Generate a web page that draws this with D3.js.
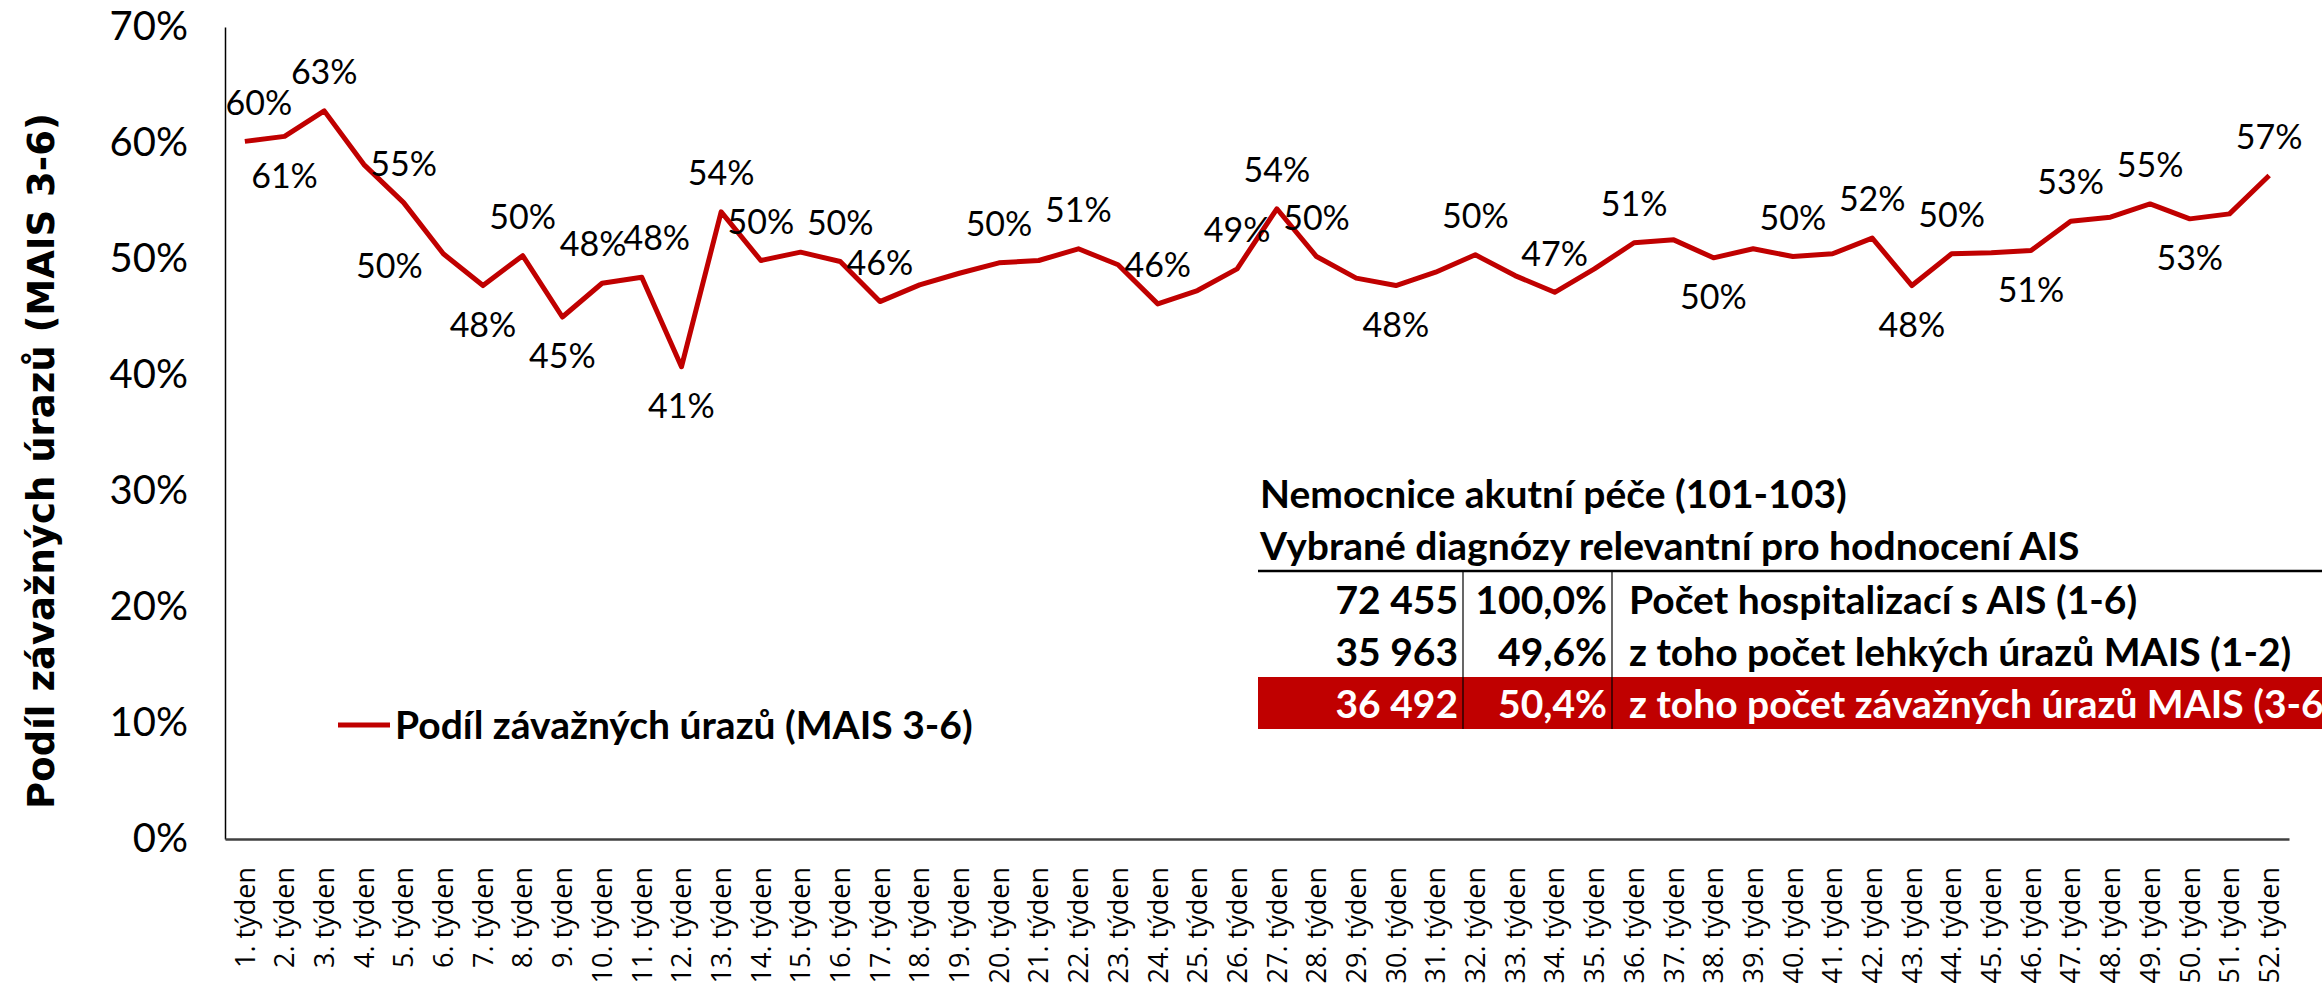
<!DOCTYPE html>
<html>
<head>
<meta charset="utf-8">
<script src="https://cdn.jsdelivr.net/npm/d3@7"></script>
<style>
  html, body { margin: 0; padding: 0; background: #fff; overflow: hidden; }
  svg { display: block; }
</style>
</head>
<body>
<svg id="chart" width="2322" height="984"></svg>
<script>
// kategorie (týdny)
const weeks = [
  '1. týden', '2. týden', '3. týden', '4. týden', '5. týden', '6. týden', '7. týden', '8. týden',
  '9. týden', '10. týden', '11. týden', '12. týden', '13. týden', '14. týden', '15. týden', '16. týden',
  '17. týden', '18. týden', '19. týden', '20. týden', '21. týden', '22. týden', '23. týden', '24. týden',
  '25. týden', '26. týden', '27. týden', '28. týden', '29. týden', '30. týden', '31. týden', '32. týden',
  '33. týden', '34. týden', '35. týden', '36. týden', '37. týden', '38. týden', '39. týden', '40. týden',
  '41. týden', '42. týden', '43. týden', '44. týden', '45. týden', '46. týden', '47. týden', '48. týden',
  '49. týden', '50. týden', '51. týden', '52. týden'
]

// podíl závažných úrazů (MAIS 3-6) po týdnech
const severeShare = [
  0.6014, 0.6057, 0.6277, 0.5814, 0.5486, 0.5045, 0.4771, 0.5029, 0.4500, 0.4791,
  0.4843, 0.4071, 0.5406, 0.4987, 0.5059, 0.4978, 0.4633, 0.4777, 0.4877, 0.4967,
  0.4987, 0.5088, 0.4950, 0.4613, 0.4728, 0.4915, 0.5433, 0.5021, 0.4835, 0.4771,
  0.4886, 0.5036, 0.4857, 0.4713, 0.4915, 0.5140, 0.5165, 0.5010, 0.5088, 0.5021,
  0.5045, 0.5180, 0.4771, 0.5045, 0.5053, 0.5073, 0.5326, 0.5360, 0.5475, 0.5346,
  0.5389, 0.5720
]

// umístění popisků: t = nad, b = pod, l = vlevo, '' = bez popisku
const labelPos = [
  't', 'b', 't', '', 't', 'l', 'b', 't', 'b', 't', 't', 'b', 't', 't', '', 't',
  't', '', '', 't', '', 't', '', 't', '', 't', 't', 't', '', 'b', '', 't',
  '', 't', '', 't', '', 'b', '', 't', '', 't', 'b', 't', '', 'b', 't', '',
  't', 'b', '', 't'
]

const yTicks = [0, 0.1, 0.2, 0.3, 0.4, 0.5, 0.6, 0.7]

const seriesName = 'Podíl závažných úrazů (MAIS 3-6)'
const yTitle = 'Podíl závažných úrazů (MAIS 3-6)'

// tabulka v grafu
const tableTitles = ['Nemocnice akutní péče (101-103)', 'Vybrané diagnózy relevantní pro hodnocení AIS']
const tableCounts = [72455, 35963, 36492]
const tableShares = [1.0, 0.496, 0.504]
const tableLabels = [
  'Počet hospitalizací s AIS (1-6)',
  'z toho počet lehkých úrazů MAIS (1-2)',
  'z toho počet závažných úrazů MAIS (3-6)'
]

const RED = '#c00000'
const W = 2322, H = 984
const margin = { top: 27, right: 33, bottom: 145, left: 225 }

const cz = d3.formatLocale({ decimal: ',', thousands: ' ', grouping: [3], currency: ['', ' Kč'] })
const fmtCount = cz.format(',d')
const fmtShare = cz.format('.1%')
const fmtPct = d3.format('.0%')

const svg = d3.select('#chart')

const x = d3.scaleBand()
  .domain(weeks)
  .range([margin.left, W - margin.right])
  .padding(0)

const y = d3.scaleLinear()
  .domain([0, 0.7])
  .range([H - margin.bottom, margin.top])

const cx = w => x(w) + x.bandwidth() / 2

// osa Y
const yAxis = svg.append('g')
  .attr('transform', `translate(${margin.left},0)`)
  .call(d3.axisLeft(y).tickValues(yTicks).tickFormat(fmtPct).tickSize(0).tickPadding(37))
yAxis.select('.domain').attr('stroke', '#000').attr('stroke-width', 1.5)
yAxis.selectAll('text')
  .style('font-family', 'Lato, sans-serif')
  .style('font-size', '40px')
  .attr('fill', '#000')

// osa X
const xAxis = svg.append('g')
  .attr('transform', `translate(0,${H - margin.bottom})`)
  .call(d3.axisBottom(x).tickSize(0).tickSizeOuter(0))
xAxis.select('.domain').attr('stroke', '#404040').attr('stroke-width', 2.5)
xAxis.selectAll('text')
  .style('font-family', '"Open Sans", sans-serif')
  .style('font-size', '27px')
  .attr('fill', '#000')
  .attr('text-anchor', 'end')
  .attr('transform', 'rotate(-90)')
  .attr('x', -28)
  .attr('y', 0)
  .attr('dy', '0.36em')

// název osy Y
svg.append('text')
  .attr('transform', `translate(41,${(margin.top + H - margin.bottom) / 2 + 28}) rotate(-90)`)
  .attr('text-anchor', 'middle')
  .attr('dy', '0.36em')
  .style('font-family', '"DejaVu Sans", sans-serif')
  .style('font-weight', 'bold')
  .style('font-size', '37px')
  .text(yTitle)

// křivka
const points = weeks.map((w, i) => ({ week: w, value: severeShare[i], pos: labelPos[i] }))

const line = d3.line()
  .x(d => cx(d.week))
  .y(d => y(d.value))

svg.append('path')
  .datum(points)
  .attr('fill', 'none')
  .attr('stroke', RED)
  .attr('stroke-width', 5)
  .attr('stroke-linejoin', 'round')
  .attr('d', line)

// popisky hodnot
const nudge = { '1. týden': 14, '10. týden': -9, '11. týden': 15 }
svg.append('g')
  .selectAll('text')
  .data(points.filter(d => d.pos))
  .join('text')
  .attr('x', d => {
    if (d.pos === 'l') return cx(d.week) - 54
    return cx(d.week) + (nudge[d.week] || 0)
  })
  .attr('y', d => {
    if (d.pos === 't') return y(d.value) - 39
    if (d.pos === 'b') return y(d.value) + 39
    return y(d.value) + 12
  })
  .attr('dy', '0.36em')
  .attr('text-anchor', 'middle')
  .style('font-family', 'Lato, sans-serif')
  .style('font-size', '34px')
  .attr('fill', '#000')
  .text(d => fmtPct(d.value))

// legenda
const legend = svg.append('g').attr('transform', 'translate(338,725)')
legend.append('line')
  .attr('x1', 0).attr('x2', 52)
  .attr('stroke', RED).attr('stroke-width', 5)
legend.append('text')
  .attr('x', 57)
  .attr('dy', '0.36em')
  .style('font-family', 'Lato, sans-serif')
  .style('font-weight', 'bold')
  .style('font-size', '39px')
  .text(seriesName)

// tabulka
const tbl = svg.append('g')
const tLeft = 1258, col1 = 1463, col2 = 1612
const rowTop = 573, rowH = 52

tbl.selectAll('text.title')
  .data(tableTitles)
  .join('text')
  .attr('class', 'title')
  .attr('x', tLeft + 2)
  .attr('y', (d, i) => 494 + i * 52)
  .attr('dy', '0.36em')
  .style('font-family', 'Lato, sans-serif')
  .style('font-weight', 'bold')
  .style('font-size', '39px')
  .text(d => d)

tbl.append('rect')
  .attr('x', tLeft).attr('y', rowTop + rowH * 2)
  .attr('width', W - tLeft).attr('height', rowH)
  .attr('fill', RED)

tbl.append('line')
  .attr('x1', tLeft).attr('x2', W)
  .attr('y1', rowTop - 2).attr('y2', rowTop - 2)
  .attr('stroke', '#000').attr('stroke-width', 2.5)

;[col1, col2].forEach(cxl => {
  tbl.append('line')
    .attr('x1', cxl).attr('x2', cxl)
    .attr('y1', rowTop - 2).attr('y2', rowTop + rowH * 3)
    .attr('stroke', '#000').attr('stroke-width', 1.2)
})

const rows = tableCounts.map((c, i) => ({ count: c, share: tableShares[i], label: tableLabels[i], i }))
const rowG = tbl.selectAll('g.row')
  .data(rows)
  .join('g')
  .attr('class', 'row')
  .attr('transform', d => `translate(0,${rowTop + rowH * d.i + rowH / 2 + 1})`)
  .style('font-family', 'Lato, sans-serif')
  .style('font-weight', 'bold')
  .style('font-size', '39px')
  .attr('fill', d => d.i === 2 ? '#fff' : '#000')

rowG.append('text')
  .attr('x', col1 - 5).attr('dy', '0.36em')
  .attr('text-anchor', 'end')
  .text(d => fmtCount(d.count))
rowG.append('text')
  .attr('x', col2 - 5).attr('dy', '0.36em')
  .attr('text-anchor', 'end')
  .text(d => fmtShare(d.share))
rowG.append('text')
  .attr('x', col2 + 17).attr('dy', '0.36em')
  .text(d => d.label)
</script>
</body>
</html>
